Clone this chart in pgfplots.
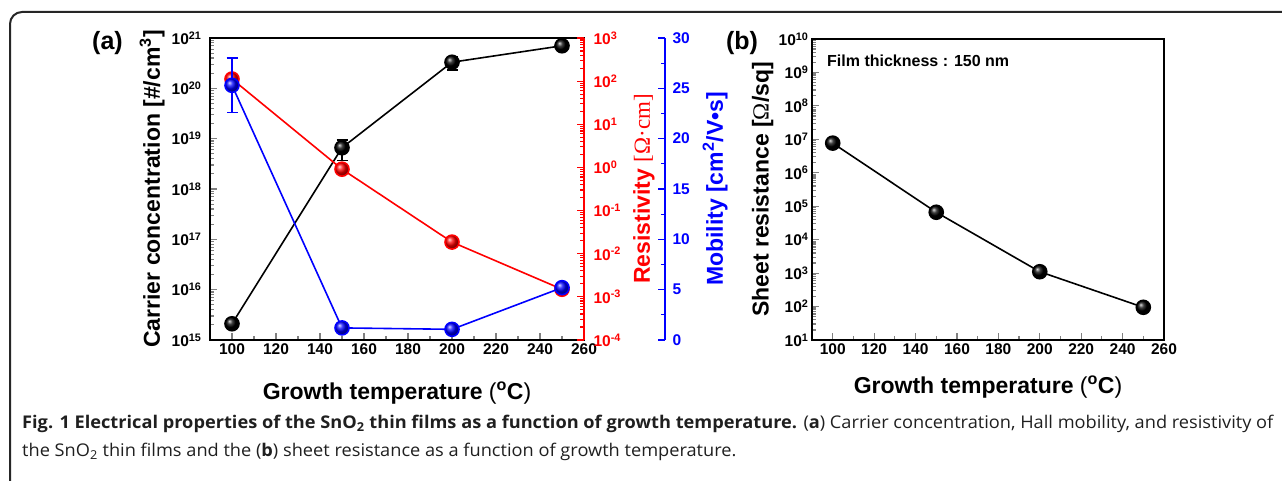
\documentclass[border=0pt]{standalone}
\usepackage{pgfplots}
\pgfplotsset{compat=1.18}
\usepackage{fontspec}
\setmainfont{Liberation Sans}
\newfontfamily\serif{Liberation Serif}
\newfontfamily\capfont[FakeStretch=1.04]{Open Sans}
\newcommand{\supx}[1]{\textsuperscript{#1}}
\tikzset{lbl/.style={font=\fontsize{23}{27}\selectfont\bfseries}}
\pgfplotsset{
  common/.style={
    scale only axis, xmin=90, xmax=260,
    xtick={100,120,...,260},
    xticklabels={100,120,140,160,180,200,220,240,260},
    minor x tick num=1,
    tick align=inside,
    axis line style={line width=1.6pt},
    major tick length=7pt, minor tick length=4pt,
    tick style={line width=1.2pt},
    ticklabel style={font=\fontsize{15.5}{18}\selectfont\bfseries},
    clip=false,
  },
}
\newcommand{\degC}{{\mdseries(}\supx{o}C{\mdseries)}}
\begin{document}
\begin{tikzpicture}[x=1pt,y=1pt]
\useasboundingbox (0,0) rectangle (1282,481);
\begin{scope}
\clip (0,0) rectangle (1282,481);
\draw[line width=2pt, black!85, rounded corners=12pt] (10,469) rectangle (1320,-40);
\end{scope}

% ---------- panel (a): carrier concentration ----------
\begin{axis}[common, at={(210pt,141pt)}, anchor=south west, width=374pt, height=302pt,
  ymode=log, ymin=1e15, ymax=1e21, ytickten={15,...,21},
  yticklabels={10\supx{15},10\supx{16},10\supx{17},10\supx{18},10\supx{19},10\supx{20},10\supx{21}},
  ytick pos=left, xtick pos=bottom,
  yticklabel style={xshift=-5pt},
  xlabel={Growth temperature \degC},
  every axis x label/.style={at={(axis description cs:0.5,0)}, yshift=-53pt, anchor=center, lbl},
  ylabel={Carrier concentration [\#/cm\supx{3}]},
  every axis y label/.style={at={(axis description cs:-0.155,0.5)}, rotate=90, anchor=center, lbl},
]
\addplot[black, line width=1.6pt, mark=ball, mark size=7pt, mark options={ball color=black},
  error bars/.cd, y dir=both, y explicit,
  error bar style={line width=1.5pt},
  error mark options={rotate=90, mark size=5.5pt, line width=1.5pt}]
  coordinates {(100,2.1e15) +- (0,0) (150,6.6e18) +- (0,2.9e18) (200,3.3e20) +- (0,1.0e20) (250,7.0e20) +- (0,0)};
\end{axis}

% ---------- panel (a): resistivity ----------
\begin{axis}[common, at={(210pt,141pt)}, anchor=south west, width=374pt, height=302pt,
  ymode=log, ymin=1e-4, ymax=1e3, ytickten={-4,...,3},
  yticklabels={10\supx{-4},10\supx{-3},10\supx{-2},10\supx{-1},10\supx{0},10\supx{1},10\supx{2},10\supx{3}},
  axis y line*=right, hide x axis,
  y axis line style={red},
  every y tick/.append style={red},
  yticklabel style={red, xshift=6pt},
  ylabel={Resistivity {\serif\mdseries[Ω·cm]}},
  every axis y label/.style={at={(axis description cs:1.16,0.5)}, rotate=90, anchor=center, lbl, red},
]
\addplot[red, line width=1.6pt, mark=ball, mark size=7pt, mark options={ball color=red}]
  coordinates {(100,112) (150,0.91) (200,0.0186) (250,1.5e-3)};
\end{axis}

% ---------- panel (a): mobility ----------
\begin{axis}[common, at={(210pt,141pt)}, anchor=south west, width=455pt, height=302pt,
  xmin=90, xmax=296.8,
  ymin=0, ymax=30, ytick={0,5,...,30}, yticklabels={0,5,10,15,20,25,30},
  minor y tick num=1,
  axis y line*=right, hide x axis,
  y axis line style={blue},
  every y tick/.append style={blue},
  yticklabel style={blue, xshift=4pt},
  ylabel={Mobility [cm\supx{2}/V•s]},
  every axis y label/.style={at={(axis description cs:1.11,0.5)}, rotate=90, anchor=center, lbl, blue},
]
\addplot[blue, line width=1.6pt, mark=ball, mark size=7pt, mark options={ball color=blue},
  error bars/.cd, y dir=both, y explicit,
  error bar style={line width=1.5pt},
  error mark options={rotate=90, mark size=5.5pt, line width=1.5pt}]
  coordinates {(100,25.3) +- (0,2.7) (150,1.2) +- (0,0) (200,1.06) +- (0,0) (250,5.2) +- (0,0)};
\end{axis}

% ---------- panel (b): sheet resistance ----------
\begin{axis}[common, at={(812pt,141pt)}, anchor=south west, width=352pt, height=301pt,
  ymode=log, ymin=10, ymax=1e10, ytickten={1,...,10},
  yticklabels={10\supx{1},10\supx{2},10\supx{3},10\supx{4},10\supx{5},10\supx{6},10\supx{7},10\supx{8},10\supx{9},10\supx{10}},
  ytick pos=left, xtick pos=bottom,
  xlabel={Growth temperature \degC},
  every axis x label/.style={at={(axis description cs:0.5,0)}, yshift=-47pt, anchor=center, lbl},
  ylabel={Sheet resistance [{\serif\mdseries Ω}/sq]},
  every axis y label/.style={at={(axis description cs:-0.14,0.5)}, rotate=90, anchor=center, lbl},
]
\addplot[black, line width=1.6pt, mark=ball, mark size=7pt, mark options={ball color=black}]
  coordinates {(100,7.7e6) (150,6.6e4) (200,1.1e3) (250,95)};
\end{axis}

\node[font=\fontsize{25}{28}\selectfont\bfseries] at (107.5,438) {(a)};
\node[font=\fontsize{25}{28}\selectfont\bfseries] at (742,438) {(b)};
\node[font=\fontsize{16}{19}\selectfont\bfseries, anchor=west, inner sep=0pt] at (827,420) {Film thickness : 150 nm};

\node[anchor=base west, inner sep=0pt, font=\capfont\fontsize{17.5}{20}\selectfont, text=black!88] at (22,52)
  {\textbf{Fig. 1 Electrical properties of the SnO\textsubscript{2} thin films as a function of growth temperature.} (\textbf{a}) Carrier concentration, Hall mobility, and resistivity of};
\node[anchor=base west, inner sep=0pt, font=\capfont\fontsize{17.5}{20}\selectfont, text=black!88] at (22,24)
  {the SnO\textsubscript{2} thin films and the (\textbf{b}) sheet resistance as a function of growth temperature.};
\end{tikzpicture}
\end{document}
